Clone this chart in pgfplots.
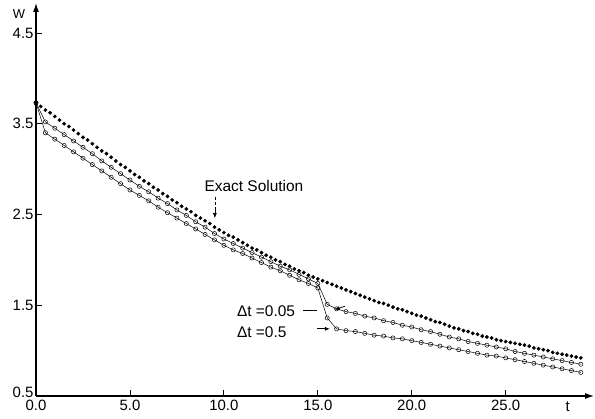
\documentclass[border=0pt]{standalone}
\usepackage{fontspec}
\setmainfont{Liberation Sans}
\usepackage{pgfplots}
\pgfplotsset{compat=1.18}
\usetikzlibrary{arrows.meta}

% exact solution, read every 0.25
\pgfplotstableread{
t W
0 3.73
0.25 3.69
0.5 3.65
0.75 3.62
1 3.58
1.25 3.54
1.5 3.50
1.75 3.47
2 3.43
2.25 3.39
2.5 3.35
2.75 3.32
3 3.28
3.25 3.24
3.5 3.20
3.75 3.17
4 3.13
4.25 3.09
4.5 3.05
4.75 3.02
5 2.98
5.25 2.94
5.5 2.91
5.75 2.87
6 2.84
6.25 2.80
6.5 2.77
6.75 2.73
7 2.70
7.25 2.66
7.5 2.63
7.75 2.59
8 2.56
8.25 2.53
8.5 2.49
8.75 2.46
9 2.43
9.25 2.40
9.5 2.36
9.75 2.33
10 2.30
10.25 2.27
10.5 2.25
10.75 2.22
11 2.19
11.25 2.16
11.5 2.13
11.75 2.11
12 2.08
12.25 2.05
12.5 2.03
12.75 2.00
13 1.98
13.25 1.95
13.5 1.93
13.75 1.90
14 1.88
14.25 1.86
14.5 1.83
14.75 1.81
15 1.79
15.25 1.77
15.5 1.75
15.75 1.73
16 1.71
16.25 1.69
16.5 1.67
16.75 1.65
17 1.63
17.25 1.61
17.5 1.59
17.75 1.57
18 1.55
18.25 1.53
18.5 1.52
18.75 1.50
19 1.48
19.25 1.46
19.5 1.45
19.75 1.43
20 1.41
20.25 1.39
20.5 1.38
20.75 1.36
21 1.34
21.25 1.32
21.5 1.31
21.75 1.29
22 1.27
22.25 1.25
22.5 1.24
22.75 1.22
23 1.21
23.25 1.19
23.5 1.18
23.75 1.16
24 1.15
24.25 1.14
24.5 1.12
24.75 1.11
25 1.10
25.25 1.09
25.5 1.08
25.75 1.07
26 1.06
26.25 1.05
26.5 1.03
26.75 1.02
27 1.01
27.25 1.00
27.5 0.98
27.75 0.97
28 0.96
28.25 0.95
28.5 0.94
28.75 0.93
29 0.92
}\exact

% dt = 0.05
\pgfplotstableread{
t W
0 3.73
0.5 3.52
1 3.45
1.5 3.38
2 3.31
2.5 3.24
3 3.17
3.5 3.09
4 3.02
4.5 2.95
5 2.88
5.5 2.81
6 2.75
6.5 2.68
7 2.62
7.5 2.55
8 2.49
8.5 2.42
9 2.36
9.5 2.29
10 2.23
10.5 2.18
11 2.13
11.5 2.08
12 2.03
12.5 1.98
13 1.93
13.5 1.89
14 1.84
14.5 1.79
15 1.74
15.5 1.51
16 1.46
16.5 1.43
17 1.41
17.5 1.38
18 1.36
18.5 1.33
19 1.31
19.5 1.28
20 1.26
20.5 1.23
21 1.21
21.5 1.18
22 1.15
22.5 1.13
23 1.10
23.5 1.08
24 1.06
24.5 1.04
25 1.02
25.5 0.99
26 0.97
26.5 0.95
27 0.93
27.5 0.91
28 0.89
28.5 0.87
29 0.85
}\fine

% dt = 0.5
\pgfplotstableread{
t W
0 3.73
0.5 3.40
1 3.33
1.5 3.26
2 3.19
2.5 3.12
3 3.05
3.5 2.98
4 2.91
4.5 2.84
5 2.77
5.5 2.71
6 2.65
6.5 2.58
7 2.52
7.5 2.46
8 2.40
8.5 2.34
9 2.28
9.5 2.22
10 2.16
10.5 2.11
11 2.07
11.5 2.02
12 1.97
12.5 1.92
13 1.88
13.5 1.83
14 1.78
14.5 1.74
15 1.69
15.5 1.36
16 1.24
16.5 1.22
17 1.21
17.5 1.19
18 1.17
18.5 1.16
19 1.14
19.5 1.13
20 1.11
20.5 1.09
21 1.07
21.5 1.05
22 1.03
22.5 1.01
23 0.99
23.5 0.97
24 0.95
24.5 0.94
25 0.92
25.5 0.90
26 0.88
26.5 0.86
27 0.84
27.5 0.82
28 0.80
28.5 0.78
29 0.76
}\coarse

\begin{document}
\begin{tikzpicture}
\begin{axis}[
    scale only axis,
    width=558bp, height=393bp,
    at={(36bp,23bp)}, anchor=south west,
    xmin=0, xmax=29.7, ymin=0.5, ymax=4.83,
    axis lines=left,
    axis line style={-{Latex[length=9bp,width=6bp]}, line width=1.1bp},
    xtick={0,5,10,15,20,25},
    xticklabels={0.0,5.0,10.0,15.0,20.0,25.0},
    ytick={0.5,1.5,2.5,3.5,4.5},
    yticklabels={\raisebox{7bp}{0.5},1.5,2.5,3.5,4.5},
    tick align=inside,
    major tick length=6bp,
    tick style={black, line width=0.8bp},
    ticklabel style={font=\fontsize{15}{17}\selectfont},
    yticklabel style={xshift=1bp},
    xticklabel style={yshift=-1bp},
    clip=false,
]
\addplot[only marks, mark=*, mark size=1.7bp, black] table {\exact};
\addplot[black, line width=0.5bp, mark=o, mark size=2.1bp,
    mark options={solid, fill=white, line width=0.5bp}] table {\fine};
\addplot[black, line width=0.5bp, mark=o, mark size=2.1bp,
    mark options={solid, fill=white, line width=0.5bp}] table {\coarse};

\node[font=\fontsize{15.5}{17}\selectfont] at (axis cs:11.6,2.81) {Exact Solution};
\draw[densely dashed, line width=0.6bp] (axis cs:9.52,2.69) -- (axis cs:9.52,2.54);
\draw[-{Latex[length=5bp,width=4bp]}, line width=0.6bp] (axis cs:9.52,2.56) -- (axis cs:9.52,2.46);

\node[anchor=west, inner sep=0, font=\fontsize{15.5}{17}\selectfont] at (axis cs:10.69,1.43) {Δt =0.05};
\draw[line width=0.7bp] (axis cs:14.2,1.44) -- (axis cs:14.95,1.44);
\draw[-{Latex[length=5bp,width=4bp]}, line width=0.7bp] (axis cs:16.45,1.49) -- (axis cs:15.9,1.45);
\node[anchor=west, inner sep=0, font=\fontsize{15.5}{17}\selectfont] at (axis cs:10.69,1.205) {Δt =0.5};
\draw[-{Latex[length=5bp,width=4bp]}, line width=0.7bp] (axis cs:14.95,1.24) -- (axis cs:15.64,1.24);

\node[font=\fontsize{15}{17}\selectfont] at (axis cs:28.3,0.38) {t};
\node[font=\fontsize{13}{15}\selectfont] at (axis cs:-0.9,4.71) {W};
\end{axis}
\pgfresetboundingbox
\path (0,0) rectangle (595bp,419bp);
\end{tikzpicture}
\end{document}
